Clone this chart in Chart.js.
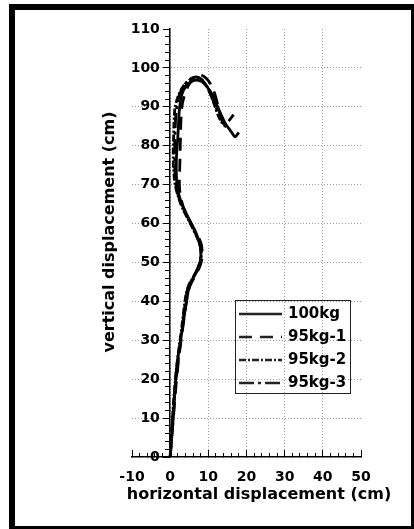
<!DOCTYPE html>
<html>
<head>
<meta charset="utf-8">
<script src="https://cdn.jsdelivr.net/npm/chart.js@4/dist/chart.umd.min.js"></script>
<style>
  html, body { margin: 0; padding: 0; background: #fff; overflow: hidden; }
  #wrap { position: relative; width: 414px; height: 529px; }
  #frame { position: absolute; left: 9px; top: 4px; width: 408px; height: 528px;
           border: 6px solid #000; box-sizing: border-box; pointer-events: none; }
</style>
</head>
<body>
<div id="wrap">
  <canvas id="mychart"></canvas>
  <div id="frame"></div>
</div>
<script>
// series (horizontal, vertical) in cm
var labels = ["100kg", "95kg-1", "95kg-2", "95kg-3"];

var x100 = [0, 0.4, 0.8, 1.3, 1.8, 2.5, 3.2, 3.8, 4.3, 4.8, 5.5, 6.5, 7.5, 8, 8, 7.7, 6.8, 5.8, 4.5, 3.3, 2.4, 1.8, 1.6, 1.7, 2, 2.2, 2.4, 3, 4.3, 6, 7.4, 8.7, 10.5, 11.8, 13.1, 14.4, 16, 17, 18];
var y100 = [0, 5, 10, 18, 24, 28.5, 33, 37, 40, 43, 45, 47, 49, 51, 53, 55, 57.5, 59.5, 62, 64.5, 67, 70, 74, 78, 82, 86, 89, 93, 95.5, 96.7, 96.8, 96.2, 94, 91.5, 88.5, 85.8, 83.6, 82.3, 83.4];

var x95a = [0, 0.5, 1, 1.5, 2.2, 3, 3.7, 4.4, 5.2, 6.5, 7.8, 8.4, 8.2, 7.2, 6, 4.6, 3.5, 2.7, 2.4, 2.5, 2.6, 2.7, 2.8, 3, 3.6, 4.8, 6.4, 8, 9.5, 10.8, 11.8, 12.6, 13.4, 14.2, 15.3, 16.6];
var y95a = [0, 6, 12, 18, 25, 31, 36, 41, 44, 46.5, 49, 51.5, 54.5, 57, 59, 61.5, 64, 67, 70, 74, 78, 82, 86, 89.5, 92.5, 95.5, 97.5, 98.2, 97.3, 95.5, 93, 90, 87, 85.2, 86.3, 88];

var x95b = [0, 0.3, 0.6, 1.1, 1.7, 2.3, 3, 3.6, 4.2, 5, 6.3, 7.5, 8.1, 8, 7, 5.8, 4.5, 3.2, 2.1, 1.3, 0.9, 0.8, 0.9, 1, 1.3, 2.2, 3.6, 5.2, 6.6, 8, 9.5, 10.7, 11.6, 12.5, 13.5, 14.7];
var y95b = [0, 5, 10, 17, 23, 28, 33, 38, 42, 44.5, 46.5, 48.8, 51, 54, 56.5, 59, 61.5, 64, 67, 70, 74, 78, 82, 86, 90, 93, 95.5, 97, 97.6, 97.2, 95.5, 93, 90.5, 88, 86, 84.8];

var x95c = [0, 0.4, 0.8, 1.3, 2, 2.7, 3.4, 4, 4.7, 5.8, 7, 7.9, 8.1, 7.5, 6.4, 5.2, 3.9, 2.7, 1.8, 1.3, 1.2, 1.2, 1.3, 1.5, 2, 3, 4.5, 6, 7.4, 8.8, 10.2, 11.3, 12.3, 13.3, 14.3, 15.2];
var y95c = [0, 6, 12, 18, 24, 29.5, 35, 40, 43.5, 45.8, 48, 50.5, 53, 55.5, 58, 60.5, 63, 65.5, 68.5, 72, 76, 80, 84, 88, 91.5, 94.5, 96.5, 97.5, 97.6, 96.5, 94, 91.5, 89, 87, 85.5, 84.6];

var dashes = [[], [13, 8], [7, 2, 2, 2], [15, 4, 3, 4]];

var xTitle = "horizontal displacement (cm)";
var yTitle = "vertical displacement (cm)";

function pts(xs, ys) {
   return xs.map(function (x, i) { return { x: x, y: ys[i] }; });
}

Chart.defaults.color = "#000000";
Chart.defaults.font.family = "'DejaVu Sans'";
Chart.defaults.font.weight = "bold";
Chart.defaults.font.size = 14;

var series = [pts(x100, y100), pts(x95a, y95a), pts(x95b, y95b), pts(x95c, y95c)];

var datasets = series.map(function (d, i) {
   return {
      label: labels[i],
      data: d,
      showLine: true,
      borderColor: "#000000",
      borderWidth: 2.8,
      borderDash: dashes[i],
      pointRadius: 0,
      tension: 0.25,
      fill: false,
   };
});

function gridColor(lo, hi) {
   return function (ctx) {
      var v = ctx.tick ? ctx.tick.value : null;
      if (v === null || v % 10 !== 0 || v === lo || v === hi) return "rgba(0,0,0,0)";
      return "#9a9a9a";
   };
}

function tenLabel(value) {
   return value % 10 === 0 ? value : "";
}

function zeroWidth(s) { s.width = 0; }
function zeroHeight(s) { s.height = 0; }

// legend box and axis titles drawn inside/around the plot, like the original
var boxLegend = {
   id: "boxLegend",
   afterDraw: function (chart) {
      var ctx = chart.ctx;
      var area = chart.chartArea;
      var left = area.left + 103;
      var top = area.top + 271;
      ctx.save();
      ctx.strokeStyle = "#222";
      ctx.lineWidth = 1;
      ctx.strokeRect(left + 0.5, top + 0.5, 115, 93);
      ctx.font = "bold 15px 'DejaVu Sans'";
      ctx.textBaseline = "middle";
      ctx.fillStyle = "#000";
      chart.data.datasets.forEach(function (ds, i) {
         var y = top + 14 + i * 23;
         ctx.beginPath();
         ctx.setLineDash(ds.borderDash);
         ctx.lineWidth = 2.5;
         ctx.moveTo(left + 4, y);
         ctx.lineTo(left + 47, y);
         ctx.stroke();
         ctx.setLineDash([]);
         ctx.fillText(ds.label, left + 53, y);
      });

      ctx.font = "bold 16px 'DejaVu Sans'";
      ctx.textAlign = "center";
      ctx.fillText(xTitle, area.left + 127, area.bottom + 38);
      ctx.translate(area.left - 22, area.top + 203);
      ctx.rotate(-Math.PI / 2);
      ctx.fillText(yTitle, 0, 0);
      ctx.restore();
   },
};

var chart = new Chart(document.getElementById("mychart"), {
   type: "scatter",
   data: { datasets: datasets },
   plugins: [boxLegend],
   options: {
      responsive: true,
      maintainAspectRatio: false,
      animation: false,
      devicePixelRatio: 1,
      layout: { padding: { left: 132, right: 53, top: 29, bottom: 0 } },
      plugins: { legend: { display: false }, tooltip: { enabled: false } },
      scales: {
         x: {
            type: "linear",
            position: "bottom",
            min: -10,
            max: 50,
            afterFit: function (s) { s.height = 72; },
            ticks: { stepSize: 2, autoSkip: false, maxRotation: 0, padding: 16, callback: tenLabel },
            grid: { color: gridColor(-10, 50), tickColor: "#000", tickLength: -4, lineWidth: 1 },
            border: { color: "#000", width: 1.5, dash: [1, 2] },
         },
         // longer marks at the labelled x ticks
         xm: {
            axis: "x",
            type: "linear",
            position: { y: 0 },
            min: -10,
            max: 50,
            afterFit: zeroHeight,
            ticks: { stepSize: 10, display: false },
            grid: { drawOnChartArea: false, tickColor: "#000", tickLength: -7 },
            border: { display: false },
         },
         y: {
            type: "linear",
            position: { x: 0 },
            min: 0,
            max: 110,
            afterFit: zeroWidth,
            ticks: { stepSize: 2, autoSkip: false, display: false },
            grid: { color: gridColor(0, 110), tickColor: "#000", tickLength: 4, lineWidth: 1 },
            border: { color: "#000", width: 1.5, dash: [1, 2] },
         },
         ym: {
            axis: "y",
            type: "linear",
            position: { x: 0 },
            min: 0,
            max: 110,
            afterFit: zeroWidth,
            ticks: { stepSize: 10, display: false },
            grid: { drawOnChartArea: false, tickColor: "#000", tickLength: 7 },
            border: { display: false },
         },
         // y tick labels, set a little left of the axis
         yl: {
            axis: "y",
            type: "linear",
            position: { x: -2.7 },
            min: 0,
            max: 110,
            afterFit: zeroWidth,
            ticks: { stepSize: 10 },
            grid: { display: false },
            border: { display: false },
         },
      },
   },
});
</script>
</body>
</html>
